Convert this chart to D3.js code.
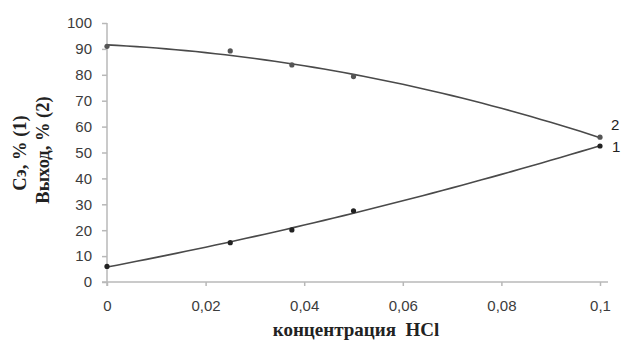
<!DOCTYPE html>
<html>
<head>
<meta charset="utf-8">
<script src="https://cdn.jsdelivr.net/npm/d3@7"></script>
<style>
  body { margin: 0; background: #fff; }
  svg { display: block; }
</style>
</head>
<body>
<script>
// концентрация HCl vs Сэ (1) and Выход (2)
var conc = [0, 0.025, 0.0375, 0.05, 0.1];
var series1 = [6, 15.2, 20.1, 27.5, 52.5];   // Сэ, %
var series2 = [91, 89.2, 83.8, 79.3, 55.9];  // Выход, %
var xTicks = [0, 0.02, 0.04, 0.06, 0.08, 0.1];
var yTicks = [0, 10, 20, 30, 40, 50, 60, 70, 80, 90, 100];
var seriesNames = ["1", "2"];

var W = 622, H = 345;
var svg = d3.select("body").append("svg").attr("width", W).attr("height", H);

var x = d3.scaleLinear().domain([0, 0.1]).range([107, 600]);
var y = d3.scaleLinear().domain([0, 100]).range([282, 23]);

var axisColor = "#b8b8b8", textColor = "#3c3c3c";
var tickFont = "15px 'Liberation Sans', Arial, sans-serif";

// y axis
var yAxis = svg.append("g").attr("transform", "translate(107,0)")
  .call(d3.axisLeft(y).tickValues(yTicks).tickSize(5).tickPadding(10).tickFormat(d3.format("d")));
yAxis.select(".domain").attr("stroke", axisColor).attr("stroke-width", 1.5).attr("d", "M0,23V286");
yAxis.selectAll(".tick line").attr("stroke", axisColor).attr("stroke-width", 1.5);
yAxis.selectAll("text").attr("fill", textColor).style("font", tickFont);

// x axis
var xAxis = svg.append("g").attr("transform", "translate(0,282)")
  .call(d3.axisBottom(x).tickValues(xTicks).tickSize(4).tickPadding(14)
    .tickFormat(function(d) { return d3.format("")(d).replace(".", ","); }));
xAxis.select(".domain").attr("stroke", axisColor).attr("stroke-width", 1.5).attr("d", "M102,0H608");
xAxis.selectAll(".tick line").attr("stroke", axisColor).attr("stroke-width", 1.5);
xAxis.selectAll("text").attr("fill", textColor).style("font", tickFont);

// quadratic least squares trend line
function quadFit(xs, ys) {
  var n = xs.length, s = [0,0,0,0,0], t = [0,0,0];
  for (var i = 0; i < n; i++) {
    var p = 1;
    for (var k = 0; k < 5; k++) { s[k] += p; if (k < 3) t[k] += p * ys[i]; p *= xs[i]; }
  }
  var A = [[s[0], s[1], s[2], t[0]], [s[1], s[2], s[3], t[1]], [s[2], s[3], s[4], t[2]]];
  for (var c = 0; c < 3; c++) {
    for (var r = c + 1; r < 3; r++) {
      var f = A[r][c] / A[c][c];
      for (var j = c; j < 4; j++) A[r][j] -= f * A[c][j];
    }
  }
  var b = [0,0,0];
  for (var r2 = 2; r2 >= 0; r2--) {
    var v = A[r2][3];
    for (var j2 = r2 + 1; j2 < 3; j2++) v -= A[r2][j2] * b[j2];
    b[r2] = v / A[r2][r2];
  }
  return function(v) { return b[0] + b[1] * v + b[2] * v * v; };
}

var samples = d3.range(0, 0.10001, 0.002);

[series1, series2].forEach(function(vals, si) {
  var f = quadFit(conc, vals);
  svg.append("path")
    .attr("d", d3.line().x(function(d) { return x(d); }).y(function(d) { return y(f(d)); })(samples))
    .attr("fill", "none").attr("stroke", "#4a4a4a").attr("stroke-width", 1.6);
  svg.selectAll(".pt" + si).data(conc).enter().append("circle")
    .attr("cx", function(d) { return x(d); })
    .attr("cy", function(d, i) { return y(vals[i]); })
    .attr("r", 2.6)
    .attr("fill", si === 0 ? "#222" : "#555");
});

// series labels
svg.append("text").attr("x", 611).attr("y", 130).text(seriesNames[1])
  .attr("fill", "#222").style("font", "15px 'Liberation Sans', Arial, sans-serif");
svg.append("text").attr("x", 612).attr("y", 152).text(seriesNames[0])
  .attr("fill", "#222").style("font", "15px 'Liberation Sans', Arial, sans-serif");

// axis titles
var serif = "bold 18.5px 'Liberation Serif', 'Times New Roman', serif";
svg.append("text").attr("transform", "translate(26,153) rotate(-90)")
  .attr("text-anchor", "middle").style("font", serif).attr("fill", "#222")
  .text("Сэ, % (1)");
svg.append("text").attr("transform", "translate(49,150) rotate(-90)")
  .attr("text-anchor", "middle").style("font", serif).attr("fill", "#222")
  .text("Выход, % (2)");
svg.append("text").attr("x", 356).attr("y", 336)
  .attr("text-anchor", "middle").style("font", "bold 19px 'Liberation Serif', 'Times New Roman', serif").attr("fill", "#222")
  .attr("xml:space", "preserve")
  .text("концентрация  HCl");
</script>
</body>
</html>
